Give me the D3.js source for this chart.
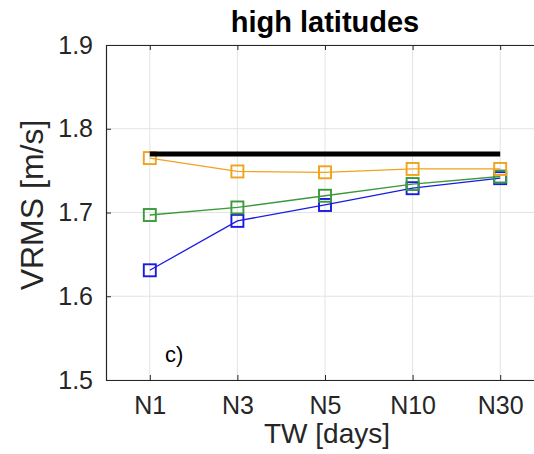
<!DOCTYPE html>
<html>
<head>
<meta charset="utf-8">
<script src="https://cdn.jsdelivr.net/npm/d3@7"></script>
<style>
  body { margin: 0; background: #fff; }
  svg { display: block; font-family: "Liberation Sans", Arial, sans-serif; }
</style>
</head>
<body>
<div id="chart"></div>
<script>
var categories = ["N1", "N3", "N5", "N10", "N30"];
var yTicks = [1.5, 1.6, 1.7, 1.8, 1.9];
var refValue = 1.770;
var orangeVals = [1.765, 1.749, 1.748, 1.752, 1.752];
var greenVals = [1.697, 1.706, 1.720, 1.734, 1.743];
var blueVals = [1.631, 1.690, 1.709, 1.729, 1.741];

var series = [
    {name: "blue", color: "#1a1ae6", values: blueVals},
    {name: "green", color: "#3a9a3a", values: greenVals},
    {name: "orange", color: "#f0a31c", values: orangeVals}
];

var totalWidth = 534,
    totalHeight = 454;
var margin = {top: 45, right: -10, bottom: 74, left: 106};
var width = totalWidth - margin.left - margin.right,
    height = totalHeight - margin.top - margin.bottom;

var svg = d3.select("#chart").append("svg")
    .attr("width", totalWidth)
    .attr("height", totalHeight);

var g = svg.append("g")
    .attr("transform", "translate(" + margin.left + "," + margin.top + ")");

var xScale = d3.scalePoint()
    .domain(categories)
    .range([0, width])
    .padding(0.5);

var yScale = d3.scaleLinear()
    .domain([1.5, 1.9])
    .range([height, 0]);

// grid
g.selectAll(".vgrid").data(categories).enter().append("line")
    .attr("x1", function(d) { return xScale(d); })
    .attr("x2", function(d) { return xScale(d); })
    .attr("y1", 0).attr("y2", height)
    .attr("stroke", "#e3e3e3").attr("stroke-width", 1);

g.selectAll(".hgrid").data(yTicks).enter().append("line")
    .attr("x1", 0).attr("x2", width)
    .attr("y1", function(d) { return yScale(d); })
    .attr("y2", function(d) { return yScale(d); })
    .attr("stroke", "#e3e3e3").attr("stroke-width", 1);

// axes
var xAxis = d3.axisBottom(xScale).tickSizeInner(-5).tickSizeOuter(0).tickPadding(16);
var yAxis = d3.axisLeft(yScale).tickValues(yTicks).tickFormat(d3.format(".1f"))
    .tickSizeInner(-5).tickSizeOuter(0).tickPadding(13);
var xTop = d3.axisTop(xScale).tickSizeInner(-5).tickSizeOuter(0).tickFormat("");

var gx = g.append("g").attr("transform", "translate(0," + height + ")").call(xAxis);
var gy = g.append("g").call(yAxis);
var gt = g.append("g").call(xTop);

[gx, gy, gt].forEach(function(a) {
    a.selectAll(".domain").attr("stroke", "#262626").attr("stroke-width", 1.2);
    a.selectAll(".tick line").attr("stroke", "#262626").attr("stroke-width", 1);
    a.selectAll(".tick text").attr("fill", "#262626")
        .style("font-size", "25px")
        .style("font-family", "'Liberation Sans', Arial, sans-serif");
});

// lines
var line = d3.line()
    .x(function(d, i) { return xScale(categories[i]); })
    .y(function(d) { return yScale(d); });

series.forEach(function(s) {
    g.append("path")
        .datum(s.values)
        .attr("fill", "none")
        .attr("stroke", s.color)
        .attr("stroke-width", 1.3)
        .attr("d", line);

    g.selectAll(".m-" + s.name).data(s.values).enter().append("rect")
        .attr("x", function(d, i) { return xScale(categories[i]) - 6; })
        .attr("y", function(d) { return yScale(d) - 6; })
        .attr("width", 12).attr("height", 12)
        .attr("fill", "none")
        .attr("stroke", s.color)
        .attr("stroke-width", 1.9);
});

// reference line
g.append("line")
    .attr("x1", xScale(categories[0]))
    .attr("x2", xScale(categories[categories.length - 1]))
    .attr("y1", yScale(refValue))
    .attr("y2", yScale(refValue))
    .attr("stroke", "#000")
    .attr("stroke-width", 5);

// labels
svg.append("text")
    .attr("x", 325).attr("y", 32)
    .attr("text-anchor", "middle")
    .style("font-size", "29px").style("font-weight", "bold")
    .attr("fill", "#000")
    .text("high latitudes");

svg.append("text")
    .attr("x", 327).attr("y", 443)
    .attr("text-anchor", "middle")
    .style("font-size", "28px")
    .attr("fill", "#262626")
    .text("TW [days]");

svg.append("text")
    .attr("transform", "translate(43,205) rotate(-90)")
    .attr("text-anchor", "middle")
    .style("font-size", "32px")
    .attr("fill", "#262626")
    .text("VRMS [m/s]");

svg.append("text")
    .attr("x", 165).attr("y", 362)
    .style("font-size", "22px")
    .attr("fill", "#000")
    .text("c)");
</script>
</body>
</html>
